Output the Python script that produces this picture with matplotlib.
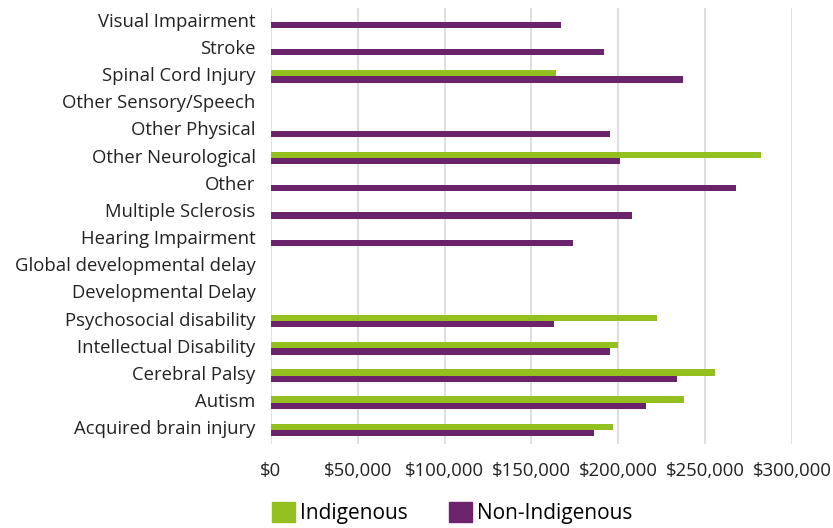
import numpy as np
import matplotlib.pyplot as plt
import matplotlib.transforms as mtransforms
from matplotlib.ticker import FuncFormatter
from matplotlib.patches import Patch

# categories listed bottom to top
categories = ["Acquired brain injury", "Autism", "Cerebral Palsy", "Intellectual Disability",
              "Psychosocial disability", "Developmental Delay", "Global developmental delay",
              "Hearing Impairment", "Multiple Sclerosis", "Other", "Other Neurological",
              "Other Physical", "Other Sensory/Speech", "Spinal Cord Injury", "Stroke",
              "Visual Impairment"]
indigenous = [197000, 238000, 255500, 200000, 222000, 0, 0, 0, 0, 0, 282000, 0, 0, 164000, 0, 0]
non_indigenous = [186000, 216000, 234000, 195000, 163000, 0, 0, 174000, 208000, 268000, 201000,
                  195000, 0, 237000, 192000, 167000]

green = "#93C01F"
purple = "#6B246B"

plt.rcParams['font.family'] = ['Open Sans', 'DejaVu Sans']

fig = plt.figure(figsize=(8.33, 5.28), dpi=100)
ax = fig.add_axes([0.3253, 0.160, 0.6255, 0.824])

y = np.arange(len(categories))
h = 0.23
ax.barh(y + h / 2, indigenous, height=h, color=green, zorder=3)
ax.barh(y - h / 2, non_indigenous, height=h, color=purple, zorder=3)

ax.set_xlim(0, 300000)
ax.set_ylim(-0.5, len(categories) - 0.5)
ax.set_xticks(np.arange(0, 300001, 50000))
ax.xaxis.set_major_formatter(FuncFormatter(lambda v, p: f"${v:,.0f}"))
ax.set_yticks(y)
ax.set_yticklabels(categories)

ax.grid(axis='x', color='#d9d9d9', linewidth=1.2, zorder=0)
for s in ax.spines.values():
    s.set_visible(False)
ax.tick_params(axis='y', length=0, pad=11, labelsize=13.3, labelcolor='#222222')
ax.tick_params(axis='x', length=0, pad=13, labelsize=13.3, labelcolor='#222222')

# category labels sit a little above the bar pair
shift = mtransforms.ScaledTranslation(0, 2.5 / 100, fig.dpi_scale_trans)
for t in ax.get_yticklabels():
    t.set_transform(t.get_transform() + shift)

handles = [Patch(color=green, label="Indigenous"), Patch(color=purple, label="Non-Indigenous")]
fig.legend(handles=handles, loc='center', bbox_to_anchor=(0.543, 0.028), ncol=2, frameon=False,
           fontsize=15, handlelength=1.1, handleheight=1.1, handletextpad=0.25, columnspacing=2.0)

fig.savefig("out.png", dpi=100)
